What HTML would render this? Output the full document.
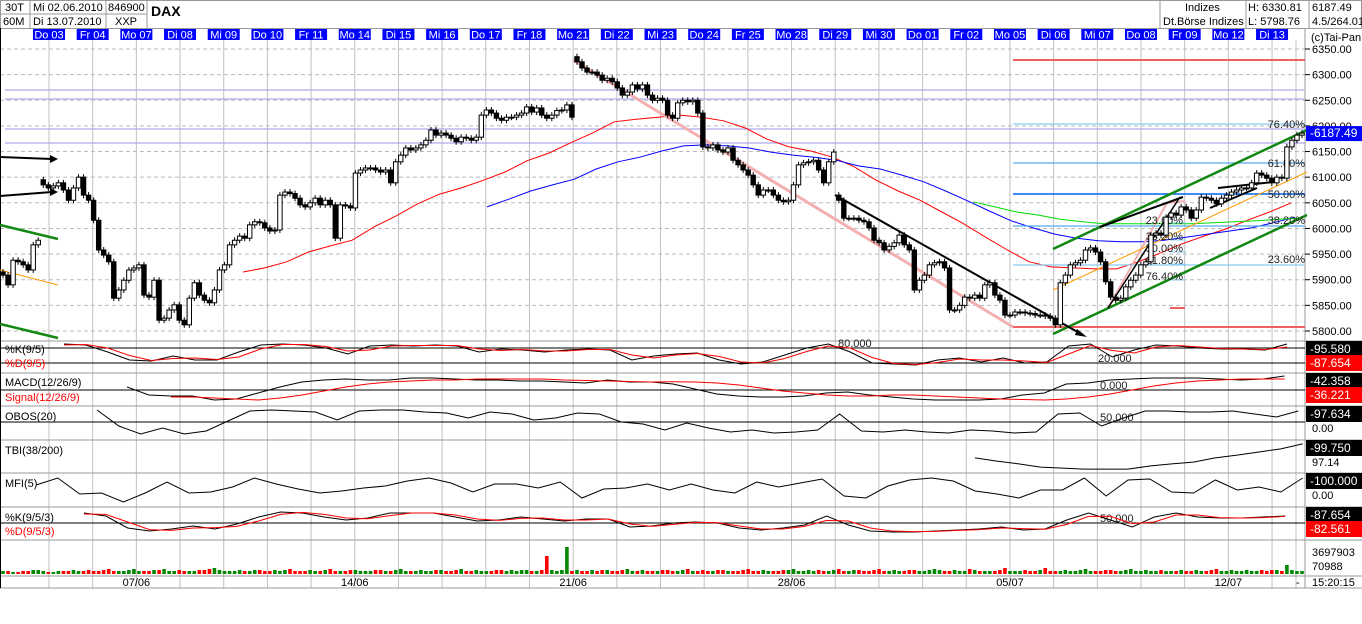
<!DOCTYPE html>
<html><head><meta charset="utf-8"><style>
body{margin:0;background:#fff;}
svg{display:block;font-family:"Liberation Sans",sans-serif;}
</style></head><body>
<svg id="c" width="1362" height="624" viewBox="0 0 1362 624" xmlns="http://www.w3.org/2000/svg">
<rect x="0" y="0" width="1362" height="624" fill="#fff"/>
<g font-size="11" fill="#000">
<rect x="0.5" y="0.5" width="1361" height="28" fill="none" stroke="#999"/>
<line x1="0" y1="14" x2="147" y2="14" stroke="#999"/>
<line x1="30" y1="0" x2="30" y2="28" stroke="#999"/><line x1="106" y1="0" x2="106" y2="28" stroke="#999"/><line x1="147" y1="0" x2="147" y2="28" stroke="#999"/>
<text x="5" y="11">30T</text><text x="3" y="25">60M</text>
<text x="33" y="11">Mi 02.06.2010</text><text x="33" y="25">Di 13.07.2010</text>
<text x="108" y="11">846900</text><text x="115" y="25">XXP</text>
<text x="151" y="16" font-size="14" font-weight="bold">DAX</text>
<line x1="1160" y1="0" x2="1160" y2="28" stroke="#999"/><line x1="1246" y1="0" x2="1246" y2="28" stroke="#999"/><line x1="1309" y1="0" x2="1309" y2="28" stroke="#999"/>
<text x="1185" y="11">Indizes</text><text x="1163" y="25">Dt.Börse Indizes</text>
<text x="1248" y="11">H: 6330.81</text><text x="1248" y="25">L: 5798.76</text>
<text x="1312" y="11">6187.49</text><text x="1312" y="25">4.5/264.01</text>
</g>
<g id="days"></g>
<g id="grid"></g>
<g id="main"></g>
<g id="ind"></g>
<g id="axis" font-size="11"></g>
</svg>
<script>
const dayLabels=["Do 03","Fr 04","Mo 07","Di 08","Mi 09","Do 10","Fr 11","Mo 14","Di 15","Mi 16","Do 17","Fr 18","Mo 21","Di 22","Mi 23","Do 24","Fr 25","Mo 28","Di 29","Mi 30","Do 01","Fr 02","Mo 05","Di 06","Mi 07","Do 08","Fr 09","Mo 12","Di 13"];
const priceTicks=[6350,6300,6250,6200,6150,6100,6050,6000,5950,5900,5850,5800];
const dateTicks=["07/06","14/06","21/06","28/06","05/07","12/07"];
const dateTickDay=[2,7,12,17,22,27];
const closes=[5909,5890,5938,5935,5929,5919,5968,5977,
6085,6079,6083,6089,6075,6055,6079,6100,6065,6055,6016,5958,5948,5935,
5864,5880,5899,5919,5923,5929,5870,5866,5899,5821,5825,5841,5851,5821,5812,5864,
5894,5870,5860,5855,5880,5919,5929,5968,5977,5985,5981,6007,6013,6011,6001,5995,5997,6065,6071,6068,6059,6046,6042,6050,6059,6046,6055,6046,5981,6046,6044,6040,
6108,6114,6118,6118,6114,6110,6114,6089,6130,6143,6157,6153,6157,6163,6172,6192,6182,6186,6182,
6176,6169,6178,6176,6172,6178,6221,6231,6225,6215,6211,6217,6217,6221,6225,6237,6227,6235,6221,6215,6221,6230,6231,6241,6217,
6325,6313,6305,6305,6299,6289,6293,6286,6274,6260,6266,6280,6272,6280,6260,6250,6254,6250,6221,6215,6245,6250,6247,6250,6225,6159,6157,6163,6153,6149,6157,6133,6124,6114,6104,6085,6065,6075,6075,6065,6055,6052,6055,6085,6124,6128,6130,6133,6114,6089,6130,6149,
6055,6020,6020,6020,6016,6013,6001,5977,5972,5958,5965,5972,5987,5968,5958,5880,5899,5909,5929,5933,5935,5923,5841,5841,5850,5866,5864,5870,5864,5890,5894,5870,5860,5831,5831,5837,5837,5835,5834,5831,5831,5829,5825,5812,
5894,5909,5929,5933,5938,5958,5962,5954,5935,5896,5866,5860,5864,5886,5899,5909,5929,5935,5987,5991,5987,6022,6030,6026,6042,6036,6020,6036,6061,6059,6055,6048,6059,6065,6071,6075,6079,6079,6089,6108,6104,6098,6089,6100,6098,6159,6172,6182,6186];
const volumes=[
3,3,2,2,3,3,4,4,3,2,2,3,
3,3,4,3,3,4,3,3,4,5,3,3,
3,4,5,3,3,3,4,4,5,3,3,4,
3,3,3,4,4,5,6,4,3,3,3,4,
3,3,4,4,3,3,4,3,4,5,3,3,
3,4,3,3,4,5,3,3,3,4,4,3,
3,3,4,4,3,3,4,5,3,3,3,4,
3,3,4,4,3,3,4,5,3,3,4,3,
3,3,4,4,3,4,3,4,4,3,3,4,
18,4,3,4,27,
3,4,3,3,4,3,4,4,3,3,4,5,
3,3,4,3,3,3,4,4,3,3,4,5,
3,3,4,3,3,4,4,3,3,3,4,5,
3,3,4,3,3,3,4,4,5,3,3,4,
3,4,3,3,4,5,3,3,4,4,3,3,
4,5,3,3,4,3,3,4,4,3,3,4,
5,4,3,3,4,3,3,5,4,3,3,3,
3,4,6,3,3,3,4,3,3,4,6,3,
3,3,4,3,3,4,5,3,3,3,4,4,
3,3,4,5,3,3,4,3,3,4,3,3,
3,4,3,3,4,3,3,4,5,3,3,4,
3,3,4,3,3,4,3,4,4,3,9,4,
3,3];
const redMA=[5915,5923,5935,5954,5966,5977,6003,6024,6048,6067,6079,6094,6110,6132,6147,6167,6186,6208,6213,6217,6221,6217,6210,6196,6174,6159,6151,6139,6120,6094,6073,6055,6032,6009,5983,5958,5935,5925,5923,5921,5921,5935,5952,5970,5985,5999,6016,6032,6050];
const blueMA=[6042,6057,6073,6085,6096,6116,6130,6139,6151,6161,6163,6161,6157,6149,6143,6139,6133,6122,6116,6104,6091,6073,6054,6034,6015,6001,5989,5981,5976,5974,5974,5977,5983,5989,5995,6001,6011,6022];
const greenMA=[6052,6042,6032,6026,6018,6013,6009,6009,6009,6009,6009,6011,6013,6015,6018,6020];
const stochK=[96,92,64,32,28,48,32,32,64,92,96,92,80,56,88,92,88,92,88,64,76,72,64,72,76,72,32,48,56,60,32,16,24,52,80,96,64,20,16,12,32,40,24,40,20,24,88,96,44,72,92,88,80,76,76,72,96];
const stochD=[92,94,80,50,30,38,40,34,44,76,94,94,86,68,72,88,90,90,90,76,70,74,68,68,74,74,52,40,52,58,46,24,20,38,66,88,80,42,18,14,22,36,32,32,28,22,56,90,70,60,84,90,84,78,76,74,84];
const macd=[24,-40,-48,-48,-80,-72,-24,24,64,80,88,80,80,96,96,88,80,80,72,72,64,56,80,64,64,48,8,-32,-48,-56,-56,-48,-24,-16,-40,-56,-72,-80,-80,-80,-72,-40,-24,48,56,80,88,96,96,96,88,80,88,112];
const signal=[-56,-56,-64,-72,-80,-64,-40,-8,24,48,64,72,80,80,88,88,88,88,80,76,72,68,64,66,64,56,40,16,-8,-24,-40,-48,-48,-40,-40,-48,-56,-64,-72,-76,-80,-72,-56,-32,0,32,56,72,80,88,88,88];
const obos=[100,36,4,28,4,16,56,96,100,96,92,60,96,100,100,92,88,68,92,84,60,68,88,84,52,44,20,48,28,12,20,8,12,20,84,16,12,20,12,8,20,16,8,12,84,88,36,68,96,96,92,92,96,84,72,96];
const tbi=[63,54,46,37,34,31,31,31,40,46,51,63,71,80,89,103];
const mfi=[72,100,36,40,4,40,84,40,44,64,100,76,56,40,48,60,68,88,100,80,44,76,76,60,84,20,56,60,76,52,76,52,40,84,64,80,96,28,20,68,92,100,88,48,36,20,52,52,100,28,92,96,44,40,92,52,64,44,100];
const k3=[95,80,20,5,15,30,15,40,75,100,95,75,60,70,95,95,95,75,55,60,75,65,55,65,65,25,30,45,50,45,20,10,20,35,80,35,5,0,0,5,10,15,25,10,15,60,95,60,25,75,95,75,70,70,75,80];
const d3=[90,88,50,12,8,20,22,28,55,88,98,88,70,66,82,95,95,85,65,58,68,70,60,60,65,40,28,38,48,47,30,15,15,28,58,55,20,5,2,3,8,12,20,17,14,38,78,78,42,50,85,85,72,70,72,78];

const NS="http://www.w3.org/2000/svg";
function mk(tag,attrs,parent){const e=document.createElementNS(NS,tag);for(const k in attrs)e.setAttribute(k,attrs[k]);parent.appendChild(e);return e;}
const X0=3,X1=1302,PW=1305;
const barX=i=>X0+i*(X1-X0)/(closes.length-1);
const yP=p=>49+(6350-p)*0.5127;
const dayX=d=>49+d*43.68;
const HALF=21.84;
const G=document.getElementById('grid'),M=document.getElementById('main'),I=document.getElementById('ind'),A=document.getElementById('axis'),D=document.getElementById('days');

dayLabels.forEach((t,d)=>{
  const x=dayX(d);
  const r=mk('rect',{x:x-16,y:29,width:32,height:11,fill:'#0000ff'},D);
  
  
  const tx=mk('text',{x:x,y:38.5,'text-anchor':'middle','font-size':11,fill:'#fff'},D);tx.textContent=t;
  
  
  const l=mk('line',{x1:x,y1:40,x2:x,y2:588,stroke:'#c0c0c0'},G);
  
  
});
mk('line',{x1:1296,y1:40,x2:1296,y2:588,stroke:'#c0c0c0'},G);
priceTicks.forEach(p=>{
  const y=yP(p);
  const l=mk('line',{x1:0,y1:y,x2:PW,y2:y,stroke:'#bbb','stroke-dasharray':'4,3'},G);
  
  
  const t=mk('text',{x:1312,y:y+4,fill:'#000'},A);t.textContent=p.toFixed(2);
  
  
  mk('line',{x1:PW,y1:y,x2:1310,y2:y,stroke:'#000'},A);
});
[341,373,406,440,473,507,540,576,588].forEach(y=>mk('line',{x1:0,y1:y,x2:1362,y2:y,stroke:'#999'},G));
mk('line',{x1:PW,y1:28,x2:PW,y2:588,stroke:'#999'},G);
mk('line',{x1:0.5,y1:28,x2:0.5,y2:588,stroke:'#000'},G);

[90,99,129,143].forEach(y=>mk('line',{x1:5,y1:y,x2:PW,y2:y,stroke:'#aaaaee','stroke-width':1.3},M));

function poly(vals,xf,yf,color,w,name,parent){
  const pts=vals.map((v,k)=>xf(k).toFixed(1)+','+yf(v).toFixed(1)).join(' ');
  const p=mk('polyline',{points:pts,fill:'none',stroke:color,'stroke-width':w||1},parent||M);
  
  
  return p;
}
poly(redMA,k=>243+k*HALF,yP,'#ff0000',1,'moving-average-red');
poly(blueMA,k=>487+k*HALF,yP,'#0000ff',1,'moving-average-blue');
poly(greenMA,k=>973+k*HALF,yP,'#00dd00',1,'moving-average-green');

const L=(x1,y1,x2,y2,c,w,n)=>{const l=mk('line',{x1,y1,x2,y2,stroke:c,'stroke-width':w},M);return l;};
L(1013,60,PW,60,'#f06060',2,'resistance-line');
L(1013,327,PW,327,'#f06060',2,'support-line');
L(573,60,1013,327,'#f4b0b0',3,'pink-trendline');
L(1108,308,1167,203,'#f4b0b0',2,'pink-trendline-2');L(1167,203,1185,201,'#f4b0b0',2,'pink-trendline-3');
L(1013,124,PW,124,'#88ccf0',1.3,'fib-76');
L(1013,163,PW,163,'#55aaee',1.3,'fib-61');
L(1013,194,PW,194,'#0066ee',1.5,'fib-50');
L(1013,226,PW,226,'#55aaee',1.3,'fib-38');
L(1013,265,PW,265,'#88ccf0',1.3,'fib-23');
L(0,270,58,285,'#ff9900',1,'orange-line-left');
L(1053,290,1307,172,'#ff9900',1,'orange-channel-mid');
L(0,225,58,239,'#118811',2.5,'green-channel-left-top');
L(0,324,58,338,'#118811',2.5,'green-channel-left-bottom');
L(1053,249,1307,130,'#118811',2.5,'green-channel-upper');
L(1053,334,1307,215,'#118811',2.5,'green-channel-lower');
L(835,195,1083,335,'#000',2,'downtrend-line');
mk('polygon',{points:'1087,337 1077,329 1075,335'},M);
L(0,157,52,159,'#000',2,'arrow-left-1');mk('polygon',{points:'58,159 50,155 50,163'},M);
L(0,196,52,192,'#000',2,'arrow-left-2');mk('polygon',{points:'58,192 50,188 50,196'},M);
L(1108,308,1180,197,'#000',1.5,'uptrend-arrow');
L(1100,227,1183,197,'#000',2,'black-channel-top');
L(1218,188,1273,182,'#000',2,'flag-top');L(1210,208,1257,188,'#000',2,'flag-bottom');
L(1170,308,1185,308,'#f06060',2,'red-mark');
[219,236,248,260,276].forEach(y=>L(1170,y+4,1186,y+4,'#88ccf0',1,'fib-tick'));
const fibT=[[1305,128,'76.40%'],[1305,167,'61.80%'],[1305,198,'50.00%'],[1305,224,'38.20%'],[1305,263,'23.60%'],[1183,224,'23.60%'],[1183,240,'38.20%'],[1183,252,'50.00%'],[1183,264,'61.80%'],[1183,280,'76.40%']];
fibT.forEach(f=>{const t=mk('text',{x:f[0],y:f[1],'text-anchor':'end','font-size':11,fill:'#222'},M);t.textContent=f[2];});

closes.forEach((c,i)=>{
  let o=i===0?c+6:closes[i-1];
  if(Math.abs(c-o)>90)o=c+10;
  const x=barX(i);
  const top=yP(Math.max(o,c)),bot=yP(Math.min(o,c));
  const w=mk('line',{x1:x,y1:top-3,x2:x,y2:bot+3,stroke:'#000'},M);
  
  
  const b=mk('rect',{x:x-2.2,y:top,width:4.4,height:Math.max(1,bot-top),fill:c<o?'#000':'#fff',stroke:'#000','stroke-width':1},M);
  
  
});
const lt=yP(closes[closes.length-1]);
mk('rect',{x:1306,y:lt-7,width:56,height:15,fill:'#0000ff'},A);
const ltt=mk('text',{x:1310,y:lt+4,fill:'#fff','font-size':12},A);ltt.textContent='-'+'6187.49';


const cp=mk('text',{x:1311,y:41,'font-size':11},A);cp.textContent='(c)Tai-Pan';

function hline(y,lbl,lx){mk('line',{x1:0,y1:y,x2:PW,y2:y,stroke:'#000'},I);if(lbl){const t=mk('text',{x:lx,y:y-1,'font-size':11,fill:'#222'},I);t.textContent=lbl;}}
function label(t,y,c){const e=mk('text',{x:5,y:y,'font-size':11,fill:c||'#000'},I);e.textContent=t;}
function tag(y,t,bg){const r=mk('rect',{x:1306,y:y-8,width:56,height:16,fill:bg},A);const e=mk('text',{x:1310,y:y+4,'font-size':12,fill:bg==='#fff'?'#000':'#fff'},A);e.textContent=t;}
const ySt=v=>368-v*0.25;
hline(348,'80.000',838);hline(363,'20.000',1098);
poly(stochK,k=>64+k*HALF,ySt,'#000',1,'stoch-k-line',I);
poly(stochD,k=>64+k*HALF,ySt,'#ff0000',1,'stoch-d-line',I);
label('%K(9/5)',353);label('%D(9/5)',367,'#ff0000');
tag(349,'-95.580','#000');tag(363,'-87.654','#ff0000');
const yM=v=>390-v/8;
hline(390,'0.000',1100);
poly(macd,k=>127+k*HALF,yM,'#000',1,'macd-line',I);
poly(signal,k=>171+k*HALF,yM,'#ff0000',1,'signal-line',I);
label('MACD(12/26/9)',386);label('Signal(12/26/9)',401,'#ff0000');
tag(381,'-42.358','#000');tag(395,'-36.221','#ff0000');
const yO=v=>435-v*0.25;
hline(422,'50.000',1100);
poly(obos,k=>97+k*HALF,yO,'#000',1,'obos-line',I);
label('OBOS(20)',420);
tag(414,'-97.634','#000');const o0=mk('text',{x:1312,y:432,'font-size':11},A);o0.textContent='0.00';
poly(tbi,k=>975+k*HALF,v=>480-v*0.35,'#000',1,'tbi-line',I);
label('TBI(38/200)',454);
tag(448,'-99.750','#000');const t97=mk('text',{x:1312,y:466,'font-size':11},A);t97.textContent='97.14';
poly(mfi,k=>36+k*HALF,v=>503-v/4,'#000',1,'mfi-line',I);
label('MFI(5)',487);
tag(481,'-100.000','#000');const m0=mk('text',{x:1312,y:499,'font-size':11},A);m0.textContent='0.00';
const yK3=v=>532-v/5;
hline(523,'50.000',1100);
poly(k3,k=>84+k*HALF,yK3,'#000',1,'slow-k-line',I);
poly(d3,k=>84+k*HALF,yK3,'#ff0000',1,'slow-d-line',I);
label('%K(9/5/3)',521);label('%D(9/5/3)',535,'#ff0000');
tag(515,'-87.654','#000');tag(529,'-82.561','#ff0000');
volumes.forEach((v,i)=>{
  if(i>=closes.length)return;
  const x=barX(i);const up=i===0||closes[i]>=closes[i-1];
  const r=mk('rect',{x:x-1.8,y:574-v,width:3.6,height:v,fill:up?'#008800':'#ff0000'},I);
  
  
});
const v1=mk('text',{x:1312,y:556,'font-size':11},A);v1.textContent='3697903';
const v2=mk('text',{x:1312,y:570,'font-size':11},A);v2.textContent='70988';
dateTicks.forEach((t,k)=>{const e=mk('text',{x:dayX(dateTickDay[k]),y:586,'text-anchor':'middle','font-size':11},A);e.textContent=t;});
const tm=mk('text',{x:1312,y:586,'font-size':11},A);tm.textContent='15:20:15';
const dsh=mk('text',{x:1296,y:586,'font-size':11},A);dsh.textContent='-';
</script>
</body></html>
